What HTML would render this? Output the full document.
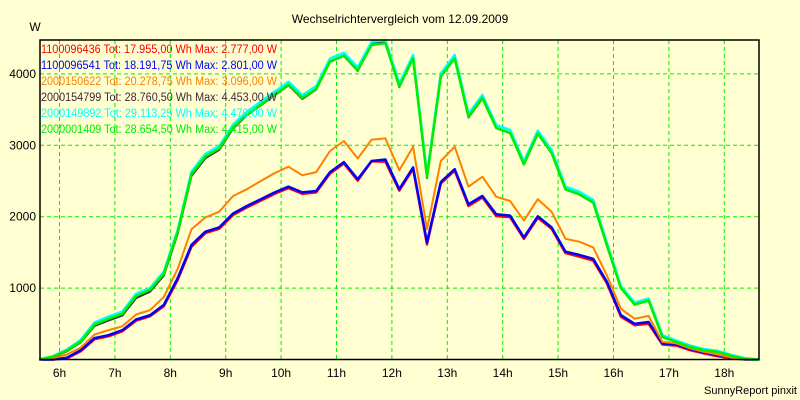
<!DOCTYPE html>
<html><head><meta charset="utf-8"><style>
html,body{margin:0;padding:0;background:#ffffd2;}
svg{display:block;font-family:"Liberation Sans",Arial,sans-serif;}
</style></head><body>
<svg id="chart" width="800" height="400" viewBox="0 0 800 400">
<rect x="0" y="0" width="800" height="400" fill="#ffffd2"/>
<text x="400" y="23" font-size="12" text-anchor="middle" fill="#000">Wechselrichtervergleich vom 12.09.2009</text>
<text x="35" y="31" font-size="12" text-anchor="middle" fill="#000">W</text>
<text x="797" y="394" font-size="11" text-anchor="end" fill="#000">SunnyReport pinxit</text>
<g id="grid"></g>
<g id="series"></g>
<rect x="40" y="40" width="719" height="319.5" fill="none" stroke="#000" stroke-width="1.5"/>
<g id="axes"></g>
<g id="legend"></g>
</svg>
<script>
const times = ["5:38","5:53","6:08","6:23","6:38","6:53","7:08","7:23","7:38","7:53","8:08","8:23","8:38","8:53","9:08","9:23","9:38","9:53","10:08","10:23","10:38","10:53","11:08","11:23","11:38","11:53","12:08","12:23","12:38","12:53","13:08","13:23","13:38","13:53","14:08","14:23","14:38","14:53","15:08","15:23","15:38","15:53","16:08","16:23","16:38","16:53","17:08","17:23","17:38","17:53","18:08","18:23","18:38"];
const redVals = [0,0,15,115,285,325,395,545,605,745,1115,1580,1770,1830,2025,2130,2225,2320,2400,2320,2340,2605,2745,2505,2777,2770,2365,2670,1610,2465,2645,2150,2270,2010,1995,1690,1985,1830,1490,1440,1385,1065,600,480,500,210,195,130,85,45,15,0,0];
const blueVals = [0,0,25,130,300,340,410,560,620,765,1140,1605,1790,1850,2045,2150,2245,2340,2420,2340,2360,2625,2765,2525,2780,2801,2385,2690,1640,2485,2665,2175,2290,2035,2015,1710,2005,1850,1510,1465,1410,1085,620,500,525,225,210,145,100,60,25,0,0];
const orangeVals = [0,20,70,167,350,410,465,630,690,875,1270,1825,1990,2070,2290,2385,2500,2610,2700,2580,2625,2920,3060,2815,3080,3096,2650,2980,1825,2780,2980,2420,2560,2280,2220,1945,2245,2070,1690,1650,1570,1175,710,570,610,247,225,155,107,70,25,0,0];
const darkVals = [0,35,115,240,470,545,615,860,950,1175,1760,2570,2820,2935,3235,3420,3560,3700,3840,3650,3780,4170,4250,4040,4420,4453,3815,4215,2540,3960,4215,3390,3655,3240,3170,2730,3160,2890,2380,2310,2195,1590,1010,785,840,330,255,180,130,105,50,8,0];
const cyanVals = [0,45,140,275,520,600,670,920,1000,1230,1815,2630,2880,2990,3290,3470,3610,3750,3890,3700,3830,4215,4295,4090,4450,4470,3865,4265,2590,4005,4265,3440,3705,3285,3215,2775,3205,2935,2420,2350,2235,1630,1030,795,855,340,265,195,145,120,62,15,0];
const greenVals = [0,40,125,250,490,570,640,890,975,1200,1785,2595,2845,2955,3250,3430,3570,3710,3850,3665,3790,4175,4255,4050,4405,4430,3825,4220,2550,3965,4220,3400,3665,3245,3175,2735,3165,2895,2385,2315,2200,1595,1000,767,827,317,247,177,130,107,52,10,0];
const xTicks = [6,7,8,9,10,11,12,13,14,15,16,17,18];
const yTicks = [1000,2000,3000,4000];
const legendLabels = ["1100096436 Tot: 17.955,00 Wh Max: 2.777,00 W","1100096541 Tot: 18.191,75 Wh Max: 2.801,00 W","2000150622 Tot: 20.278,75 Wh Max: 3.096,00 W","2000154799 Tot: 28.760,50 Wh Max: 4.453,00 W","2000149892 Tot: 29.113,25 Wh Max: 4.470,00 W","2000001409 Tot: 28.654,50 Wh Max: 4.415,00 W"];

const NS="http://www.w3.org/2000/svg";
function xs(h){return 59.5+(h-6)*55.4;}
function ys(v){return 359.5-v*0.0714;}
function hrs(t){const p=t.split(":");return +p[0]+(+p[1])/60;}
function mk(tag,attrs,parent){const e=document.createElementNS(NS,tag);for(const k in attrs)e.setAttribute(k,attrs[k]);parent.appendChild(e);return e;}

const grid=document.getElementById("grid");
xTicks.forEach(h=>{
  const l=mk("line",{x1:xs(h),x2:xs(h),y1:40,y2:359,stroke:"#00f000","stroke-width":1,"stroke-dasharray":"4,3"},grid);
  
  
});
yTicks.forEach(v=>{
  const l=mk("line",{x1:40,x2:759,y1:ys(v),y2:ys(v),stroke:"#00f000","stroke-width":1,"stroke-dasharray":"4,3"},grid);
  
  
});

const seriesG=document.getElementById("series");
const seriesList=[[redVals,"#ff0000",2.5,"series-1100096436"],[blueVals,"#0000ff",2.5,"series-1100096541"],[orangeVals,"#ff8000",2,"series-2000150622"],[darkVals,"#402838",2,"series-2000154799"],[cyanVals,"#00ffff",2.5,"series-2000149892"],[greenVals,"#00ee00",2.5,"series-2000001409"]];
seriesList.forEach(s=>{
  const pts=s[0].map((v,i)=>xs(hrs(times[i])).toFixed(1)+","+ys(v).toFixed(1)).join(" ");
  const pl=mk("polyline",{points:pts,fill:"none",stroke:s[1],"stroke-width":s[2],"stroke-linejoin":"round"},seriesG);
  
  
});

const axes=document.getElementById("axes");
xTicks.forEach(h=>{
  const t=mk("text",{x:xs(h),y:377,"font-size":12,"text-anchor":"middle",fill:"#000"},axes);
  t.textContent=h+"h";
  
  
});
yTicks.forEach(v=>{
  const t=mk("text",{x:36,y:ys(v)+4,"font-size":12,"text-anchor":"end",fill:"#000"},axes);
  t.textContent=v;
  
  
});

const legend=document.getElementById("legend");
const legendColors=["#ff0000","#0000ff","#ff8000","#402838","#00ffff","#00ee00"];
legendLabels.forEach((lab,i)=>{
  const t=mk("text",{x:41,y:53+i*16,"font-size":11.5,fill:legendColors[i],textLength:236,lengthAdjust:"spacingAndGlyphs"},legend);
  t.textContent=lab;
  
  
});
</script>
</body></html>
